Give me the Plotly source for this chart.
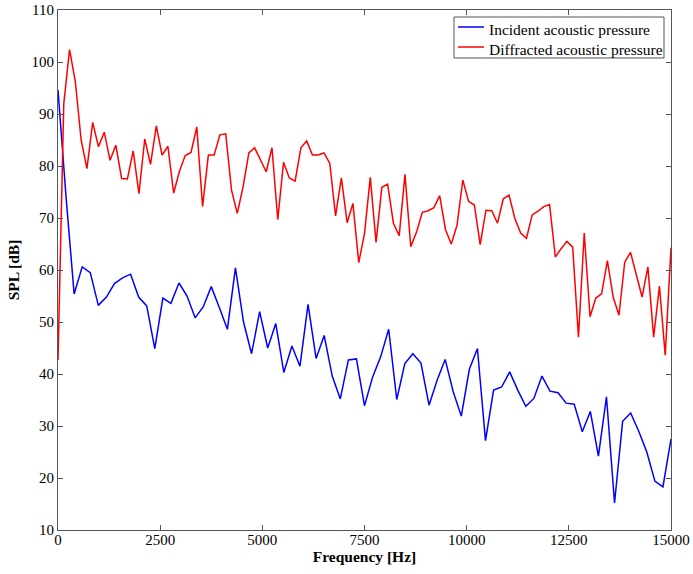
import numpy as np
import plotly.graph_objects as go

freq_incident = np.linspace(0, 15000, 77)     # ~197 Hz step
freq_diffracted = np.linspace(0, 15000, 107)  # ~141.5 Hz step

spl_incident = [
    94.6, 74.0, 55.4, 60.6, 59.5, 53.2, 54.8, 57.4, 58.5, 59.2,
    54.8, 53.1, 44.9, 54.6, 53.6, 57.5, 55.0, 50.8, 52.9, 56.8,
    52.8, 48.6, 60.4, 50.0, 43.9, 52.0, 45.0, 49.7, 40.3, 45.4,
    41.5, 53.4, 43.0, 47.4, 39.6, 35.2, 42.7, 42.9, 33.9, 39.4,
    43.3, 48.6, 35.1, 42.0, 43.9, 42.1, 34.0, 38.8, 42.8, 36.6,
    31.9, 40.9, 44.9, 27.2, 36.9, 37.5, 40.4, 36.9, 33.8, 35.3,
    39.6, 36.7, 36.4, 34.4, 34.2, 28.9, 32.8, 24.2, 35.6, 15.2,
    30.9, 32.5, 29.0, 25.0, 19.4, 18.3, 27.5,
]

spl_diffracted = [
    42.7, 92.0, 102.4, 96.2, 85.0, 79.5, 88.4, 83.7, 86.5, 81.1,
    84.0, 77.6, 77.5, 82.9, 74.7, 85.2, 80.3, 87.7, 82.1, 83.8,
    74.8, 79.0, 82.0, 82.6, 87.5, 72.2, 82.1, 82.1,
    86.0, 86.2, 75.4, 70.9, 76.0, 82.5, 83.5, 81.3, 78.9, 83.5,
    69.7, 80.7, 77.7, 77.1, 83.5, 84.8, 82.1, 82.1, 82.5, 80.5,
    70.4, 77.7, 69.1, 72.8, 61.4, 67.0,
    77.8, 65.3, 75.9, 76.5, 69.0, 66.6, 78.4, 64.5, 67.3, 71.1,
    71.4, 72.0, 74.3, 67.8, 65.0, 68.6, 77.3, 73.2, 72.5, 64.9,
    71.5, 71.4, 69.0, 73.7, 74.4, 69.9,
    67.1, 66.1, 70.6, 71.3, 72.2, 72.6, 62.5, 64.1, 65.5, 64.4,
    47.1, 67.1, 51.0, 54.6, 55.4, 61.8, 54.8, 51.3, 61.5, 63.4,
    59.3, 54.8, 60.6, 47.1, 56.9, 43.6, 64.3,
]

x_ticks = [0, 2500, 5000, 7500, 10000, 12500, 15000]
x_ticklabels = ["0", "2500", "5000", "7500", "10000", "12500", "15000"]
y_ticks = [10, 20, 30, 40, 50, 60, 70, 80, 90, 100, 110]

series_names = ["Incident acoustic pressure", "Diffracted acoustic pressure"]
series_colors = ["#0000FF", "#FF0000"]

FONT = "Liberation Serif"
FRAME = "#555555"

fig = go.Figure()
fig.add_trace(go.Scatter(
    x=freq_incident, y=spl_incident, mode="lines",
    name=series_names[0], showlegend=False,
    line=dict(color=series_colors[0], width=1.5),
))
fig.add_trace(go.Scatter(
    x=freq_diffracted, y=spl_diffracted, mode="lines",
    name=series_names[1], showlegend=False,
    line=dict(color=series_colors[1], width=1.5),
))

axis_common = dict(
    showline=True, linecolor=FRAME, linewidth=1,
    mirror="ticks", ticks="inside", ticklen=5, tickcolor=FRAME,
    showgrid=False, zeroline=False, automargin=False,
    tickfont=dict(family=FONT, size=15, color="#000000"),
)

# MATLAB-style legend box in the top-right corner (paper coordinates)
legend_box = dict(x0=0.6460, x1=0.9886, y0=0.9077, y1=0.9865)
legend_rows_y = [0.9673, 0.9288]
legend_line_x = (0.6525, 0.6949)
legend_text_x = 0.6998

shapes = [dict(type="rect", xref="paper", yref="paper",
               line=dict(color=FRAME, width=1), fillcolor="white", layer="above",
               **legend_box)]
annotations = []
for name, color, ry in zip(series_names, series_colors, legend_rows_y):
    shapes.append(dict(type="line", xref="paper", yref="paper", layer="above",
                       x0=legend_line_x[0], x1=legend_line_x[1], y0=ry, y1=ry,
                       line=dict(color=color, width=1.5)))
    annotations.append(dict(xref="paper", yref="paper", x=legend_text_x, y=ry - 0.004,
                            xanchor="left", yanchor="middle", showarrow=False,
                            text=name, font=dict(family=FONT, size=15.5, color="#000000")))

fig.update_layout(
    width=693, height=574,
    margin=dict(l=58, r=22, t=10, b=44),
    paper_bgcolor="white", plot_bgcolor="white",
    font=dict(family=FONT, size=15, color="#000000"),
    xaxis=dict(
        range=[0, 15000], tickvals=x_ticks, ticktext=x_ticklabels,
        ticklabelstandoff=-4,
        title=dict(text="<b>Frequency [Hz]</b>", font=dict(family=FONT, size=15.5), standoff=2),
        **axis_common,
    ),
    yaxis=dict(
        range=[10, 110], tickvals=y_ticks,
        title=dict(text="<b>SPL [dB]</b>", font=dict(family=FONT, size=15.5), standoff=8),
        **axis_common,
    ),
    shapes=shapes,
    annotations=annotations,
    showlegend=False,
)

fig.write_html("out.html")
